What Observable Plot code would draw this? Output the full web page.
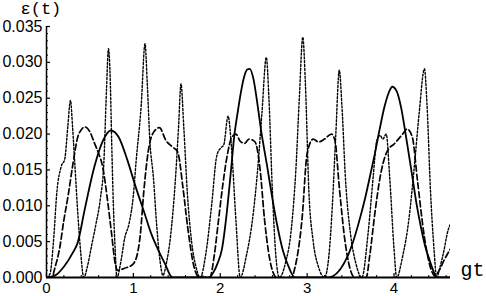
<!DOCTYPE html>
<html>
<head>
<meta charset="utf-8">
<script src="https://cdn.jsdelivr.net/npm/d3@7"></script>
<script src="https://cdn.jsdelivr.net/npm/@observablehq/plot@0.6"></script>
<style>
  html, body { margin: 0; padding: 0; background: #fff; }
  #chart { width: 486px; height: 296px; }
</style>
</head>
<body>
<div id="chart"></div>
<script>
// Solid curve
const tSolid = [0,0.1,0.2,0.3,0.36,0.44,0.55,0.65,0.74,0.83,0.93,1.03,1.13,1.2,1.28,1.36,1.45,
  1.87,1.92,1.97,2.02,2.07,2.12,2.16,2.2,2.24,2.28,2.31,2.34,2.38,2.43,2.47,2.54,2.6,2.66,2.72,2.79,2.86,
  3.24,3.47,3.55,3.62,3.67,3.73,3.78,3.84,3.89,3.94,3.98,4.03,4.08,4.14,4.2,4.26,4.31,4.36,4.41,4.45,4.49,4.65];
const eSolid = [0,0.0003,0.0015,0.0034,0.0049,0.0095,0.0154,0.0191,0.0205,0.0196,0.0164,0.0125,0.0089,0.0063,0.0040,0.0020,0,
  0,0.0007,0.0020,0.0040,0.0085,0.0145,0.0196,0.0230,0.0260,0.0282,0.0290,0.0291,0.0278,0.0240,0.0205,0.0155,0.0110,0.0070,0.0038,0.0014,0,
  0,0.0031,0.0058,0.0088,0.0112,0.0145,0.0173,0.0210,0.0238,0.0258,0.0266,0.0260,0.0238,0.0195,0.0149,0.0102,0.0070,0.0043,0.0024,0.0010,0,0];

// Dashed curve
const tDashed = [0,0.06,0.1,0.15,0.2,0.25,0.3,0.36,0.4,0.44,0.5,0.55,0.6,0.647,0.7,0.75,0.79,0.82,0.9,0.99,
  1.04,1.08,1.12,1.17,1.22,1.3,1.375,1.45,1.51,1.57,1.625,1.7,1.76,1.88,1.93,1.98,2.03,2.08,2.13,2.18,2.23,2.28,2.33,2.4,
  2.46,2.51,2.59,2.65,2.82,2.86,2.94,3.0,3.07,3.13,3.2,3.28,3.32,3.37,3.43,3.49,3.55,3.68,3.72,3.78,3.84,3.9,3.95,4.0,
  4.05,4.1,4.15,4.21,4.27,4.35,4.43,4.47,4.52,4.58,4.65];
const eDashed = [0,0,0.0015,0.0040,0.0080,0.0115,0.0155,0.0196,0.0206,0.0210,0.0203,0.0188,0.0173,0.0154,0.0110,0.0060,0.0020,0.0010,0.0013,0.0018,
  0.0030,0.0060,0.0120,0.0175,0.0200,0.0209,0.0191,0.0182,0.0175,0.0126,0.0070,0.0014,0,0,0.0030,0.0080,0.0130,0.0170,0.0195,0.0200,0.0190,0.0187,0.0193,0.0189,
  0.0149,0.0080,0.0014,0,0,0.0014,0.0080,0.0173,0.0193,0.0189,0.0193,0.0200,0.0191,0.0126,0.0056,0.0014,0,0,0.0030,0.0090,0.0140,0.0170,0.0181,0.0186,
  0.0193,0.0200,0.0207,0.0196,0.0135,0.0056,0.0010,0.0002,0.0010,0.0025,0.0040];

// Dotted curve
const tDotted = [0,0.04,0.08,0.12,0.17,0.21,0.245,0.276,0.3,0.33,0.36,0.39,0.43,0.47,0.52,0.57,0.62,0.66,0.69,0.713,0.735,0.75,0.77,0.79,0.81,
  0.86,0.9,0.95,1.0,1.03,1.09,1.134,1.16,1.19,1.23,1.27,1.31,1.34,1.38,1.43,1.48,1.52,1.548,1.58,1.62,1.67,1.72,1.77,
  1.83,1.9,1.96,2.0,2.04,2.09,2.13,2.18,2.23,2.3,2.37,2.43,2.48,2.53,2.56,2.6,2.64,2.68,
  2.75,2.82,2.87,2.91,2.95,2.98,3.02,3.07,3.13,3.2,3.25,3.29,3.33,3.37,3.4,3.44,3.5,3.56,3.63,
  3.7,3.76,3.8,3.84,3.87,3.91,3.95,4.0,4.03,4.1,4.17,4.23,4.29,4.35,4.38,4.42,4.46,4.49,4.53,4.57,4.62,4.65];
const eDotted = [0,0.0005,0.0050,0.0120,0.0155,0.0165,0.0210,0.0247,0.0210,0.0150,0.0090,0.0040,0,0.0015,0.0045,0.0075,0.0110,0.0160,0.0260,0.0319,0.0270,0.0190,0.0100,0.0040,0,
  0.0025,0.0055,0.0075,0.0115,0.0160,0.0240,0.0326,0.0270,0.0190,0.0140,0.0070,0.0020,0.0003,0.0020,0.0060,0.0130,0.0210,0.0270,0.0210,0.0120,0.0050,0.0015,0,
  0.0030,0.0100,0.0170,0.0180,0.0185,0.0225,0.0180,0.0080,0,0.0030,0.0080,0.0150,0.0230,0.0307,0.0250,0.0120,0.0030,0,
  0.0020,0.0070,0.0150,0.0250,0.0335,0.0270,0.0120,0.0050,0.0015,0,0.0030,0.0100,0.0200,0.0289,0.0240,0.0140,0.0060,0.0020,0,
  0.0060,0.0140,0.0190,0.0198,0.0193,0.0200,0.0140,0.0040,0,0.0030,0.0080,0.0150,0.0230,0.0291,0.0240,0.0120,0.0040,0,0.0015,0.0035,0.0065,0.0075];

const yMajor = [0,0.005,0.010,0.015,0.020,0.025,0.030,0.035];
const yMinor = d3.range(0, 36).map(i => i / 1000).filter(v => !yMajor.some(m => Math.abs(m - v) < 1e-9));
const xMajor = [0,1,2,3,4];
const xMinor = d3.range(0, 24).map(i => i * 0.2).filter(v => Math.abs(v - Math.round(v)) > 1e-9);

const toRows = (ts, es) => ts.map((t, i) => ({t, e: es[i]}));
const solid = toRows(tSolid, eSolid);
const dashed = toRows(tDashed, eDashed);
const dotted = toRows(tDotted, eDotted);

const W = 486, H = 296, mL = 46, mR = 36, mT = 26, mB = 19;
const pw = W - mL - mR, ph = H - mT - mB;
const sans = "Liberation Sans, Arial, Helvetica, sans-serif";
const mono = "Liberation Mono, DejaVu Sans Mono, monospace";

const chart = Plot.plot({
  width: W, height: H,
  marginLeft: mL, marginRight: mR, marginTop: mT, marginBottom: mB,
  style: {background: "#fff", color: "#000", fontFamily: sans},
  x: {domain: [0, 4.65]},
  y: {domain: [0, 0.035]},
  marks: [
    Plot.line(dotted, {x: "t", y: "e", stroke: "#000", strokeWidth: 1.4, strokeDasharray: "2,1.8", curve: "monotone-x", clip: true}),
    Plot.line(dashed, {x: "t", y: "e", stroke: "#000", strokeWidth: 1.7, strokeDasharray: "6,3", curve: "monotone-x", clip: true}),
    Plot.line(solid, {x: "t", y: "e", stroke: "#000", strokeWidth: 1.8, curve: "monotone-x", clip: true}),
    Plot.ruleX([0], {stroke: "#000", strokeWidth: 1.5}),
    Plot.ruleY([0], {stroke: "#000", strokeWidth: 2.2}),
    Plot.tickY(yMajor, {y: d => d, stroke: "#000", strokeWidth: 1.2, insetRight: pw - 4}),
    Plot.tickY(yMinor, {y: d => d, stroke: "#000", strokeWidth: 1, insetRight: pw - 2}),
    Plot.tickX(xMajor, {x: d => d, stroke: "#000", strokeWidth: 1.2, insetTop: ph - 4}),
    Plot.tickX(xMinor, {x: d => d, stroke: "#000", strokeWidth: 1, insetTop: ph - 2}),
    Plot.axisY({ticks: yMajor, tickSize: 0, tickPadding: 4, tickFormat: d3.format(".3f"), fontSize: 16, label: null}),
    Plot.axisX({ticks: xMajor, tickSize: 0, tickPadding: 5, tickFormat: d3.format("d"), fontSize: 15, label: null}),
    Plot.text(["gt"], {frameAnchor: "bottom-right", dx: 10, dy: -1.5, textAnchor: "start", fontFamily: mono, fontSize: 20, fill: "#000"}),
    Plot.text(["ε(t)"], {frameAnchor: "top-left", dx: -26, dy: -25, lineAnchor: "top", textAnchor: "start", fontFamily: mono, fontSize: 17, fill: "#000"})
  ]
});
document.getElementById("chart").appendChild(chart);
</script>
</body>
</html>
